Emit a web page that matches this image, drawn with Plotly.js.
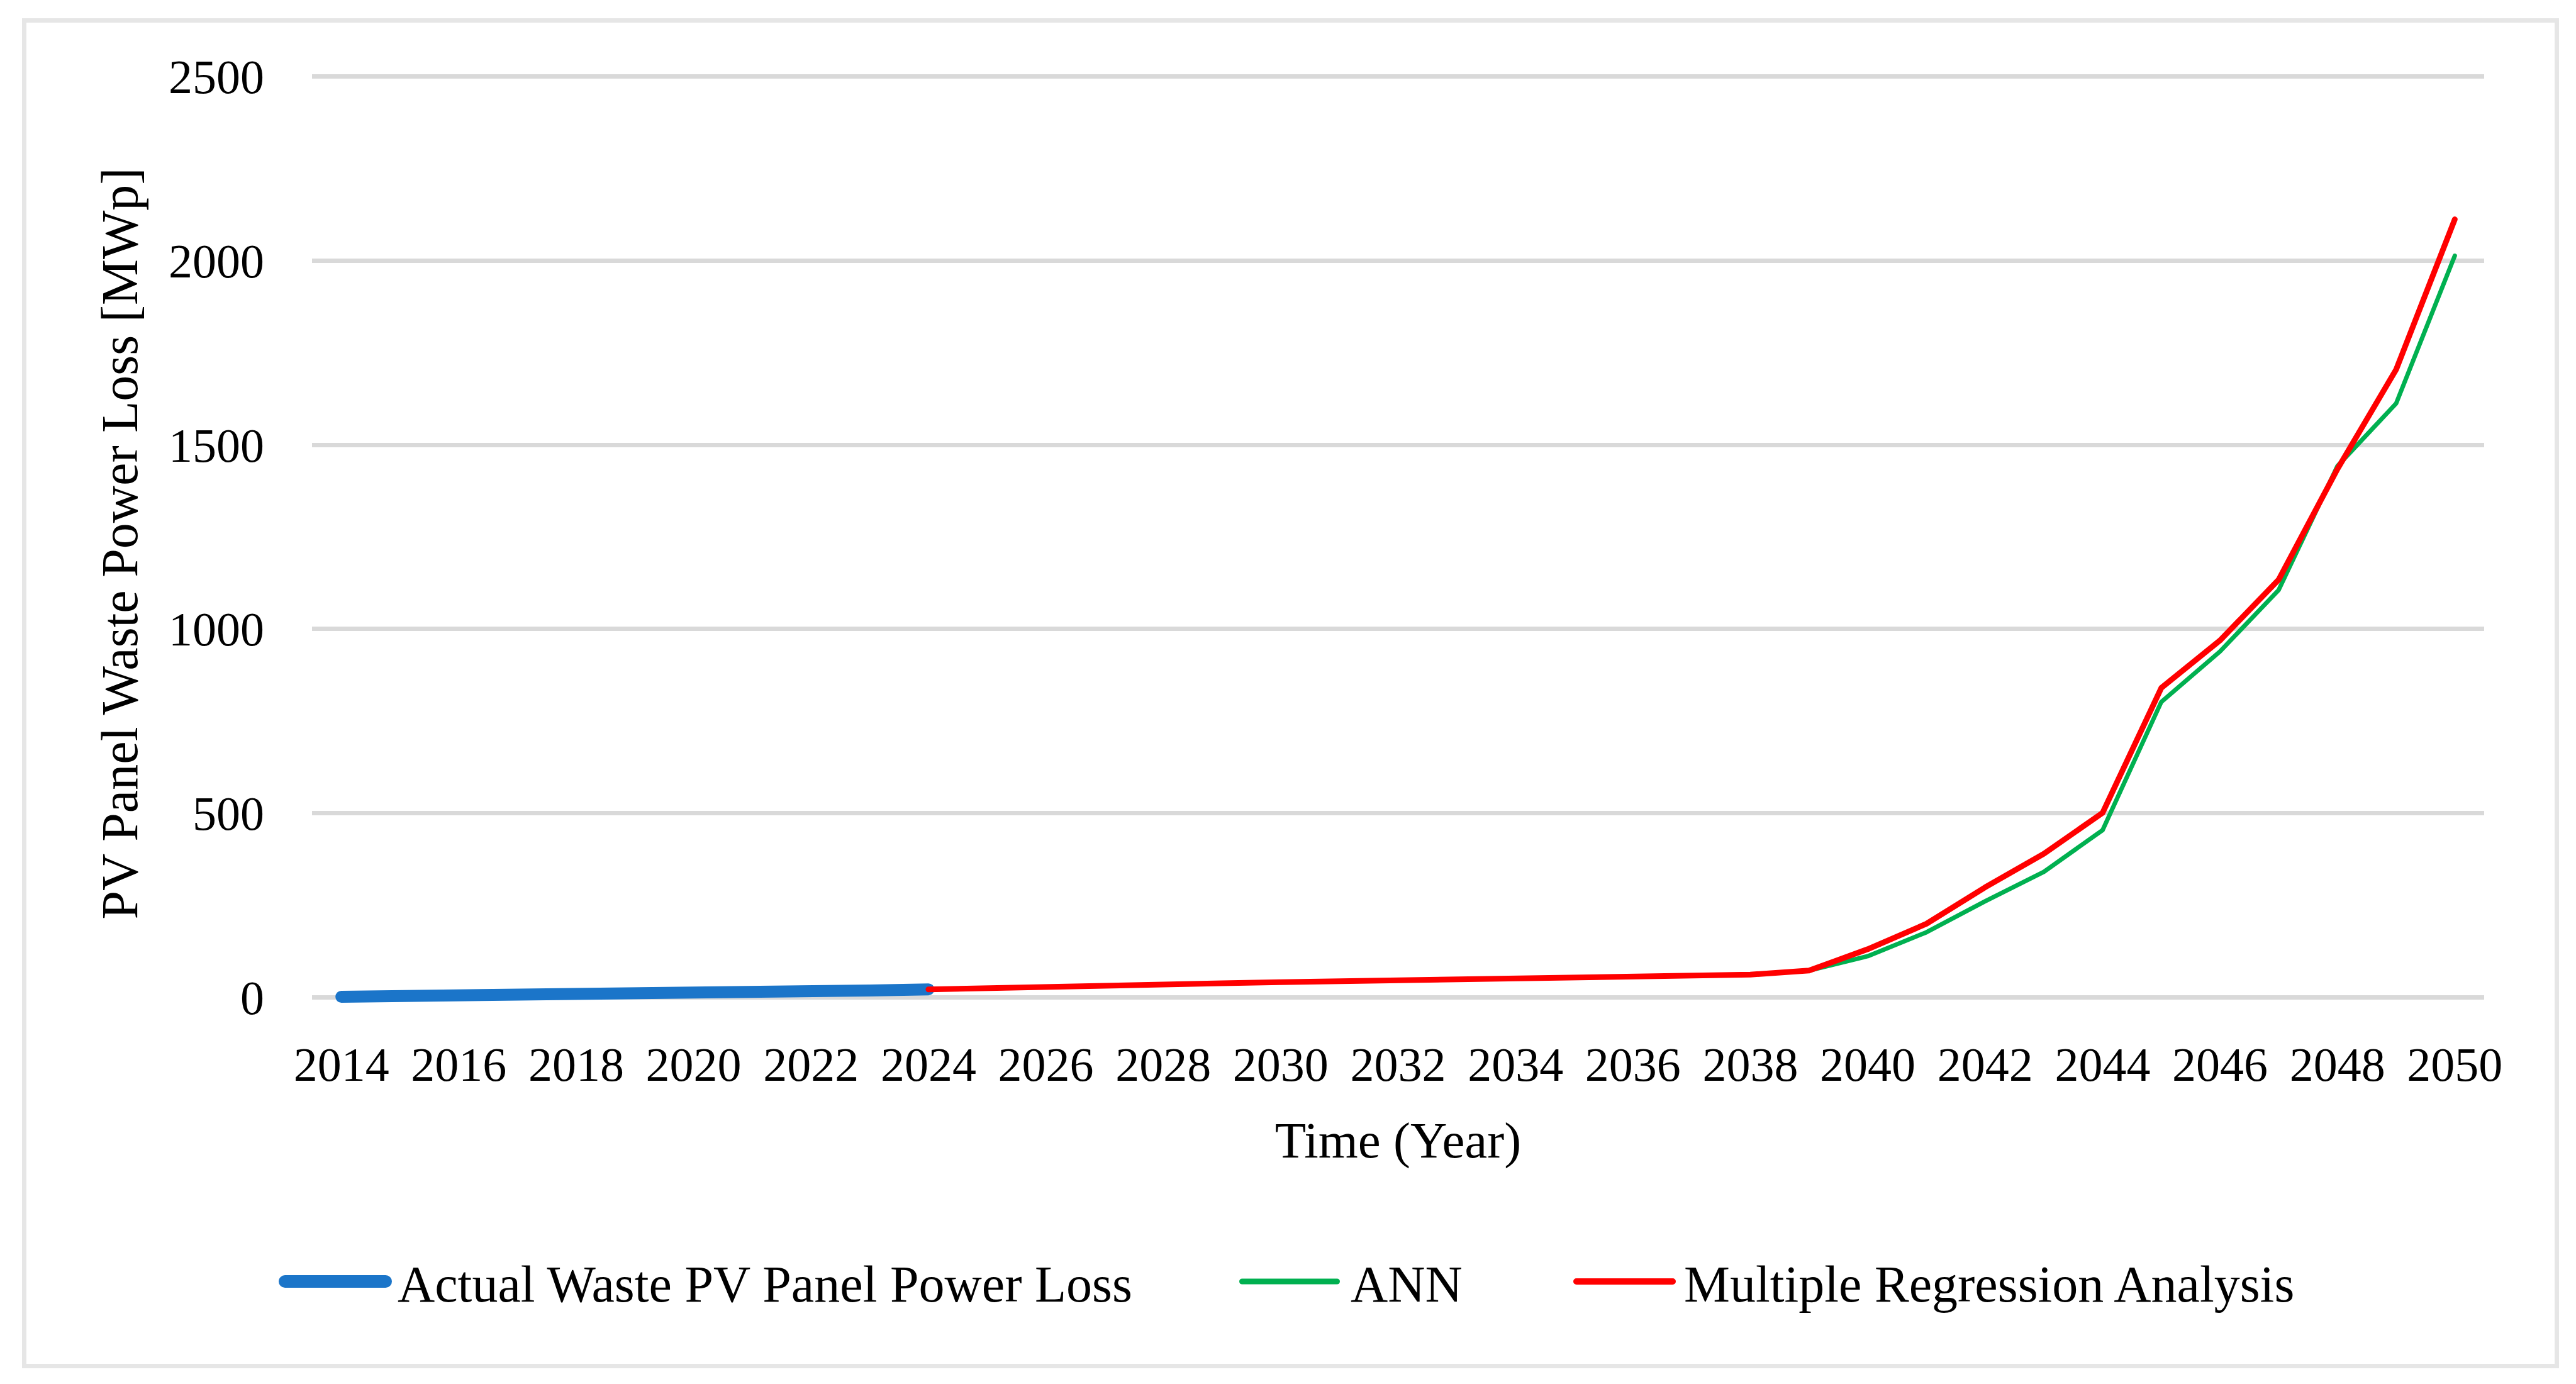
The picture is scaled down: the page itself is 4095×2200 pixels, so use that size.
<!DOCTYPE html>
<html>
<head>
<meta charset="utf-8">
<script src="https://cdn.plot.ly/plotly-3.0.1.min.js"></script>
<style>
  html, body { margin: 0; padding: 0; background: #ffffff; }
  #chart { width: 4095px; height: 2200px; }
  #frame { position: absolute; left: 35px; top: 29px; width: 4033px; height: 2146px;
           box-sizing: border-box; border: 7px solid #e6e6e6; pointer-events: none; }
</style>
</head>
<body>
<div id="chart"></div>
<div id="frame"></div>
<script>
// ---- data ----
const actualYears = [2014, 2015, 2016, 2017, 2018, 2019, 2020, 2021, 2022, 2023, 2024];
const actualLoss  = [2, 3, 4, 5, 6, 7, 8, 10, 12, 19, 22];

const forecastYears = [2024, 2025, 2026, 2027, 2028, 2029, 2030, 2031, 2032, 2033, 2034, 2035, 2036,
                       2037, 2038, 2039, 2040, 2041, 2042, 2043, 2044, 2045, 2046, 2047, 2048, 2049, 2050];
const annLoss = [22, 26, 29.5, 32.5, 35.5, 38.5, 41.5, 44.5, 47, 49.5, 52, 54.5, 57,
                 59.5, 62, 73, 112, 177, 261, 341, 454, 802, 939, 1106, 1442, 1612, 2013];
const mraLoss = [22, 26, 29.5, 32.5, 35.5, 38.5, 41.5, 44.5, 47, 49.5, 52, 54.5, 57,
                 59.5, 62, 73, 131, 200, 299, 390, 501, 840, 969, 1134, 1434, 1704, 2112];

const seriesNames = ['Actual Waste PV Panel Power Loss', 'ANN', 'Multiple Regression Analysis'];
const yTickVals = [0, 500, 1000, 1500, 2000, 2500];
const xTickVals = [2014, 2016, 2018, 2020, 2022, 2024, 2026, 2028, 2030, 2032, 2034, 2036, 2038,
                   2040, 2042, 2044, 2046, 2048, 2050];

const FONT = '"Liberation Serif", "Times New Roman", Times, serif';

const traces = [
  { x: actualYears, y: actualLoss, name: seriesNames[0], type: 'scatter', mode: 'lines',
    line: { color: '#1B75C9', width: 19 }, cliponaxis: false, legend: 'legend' },
  { x: forecastYears, y: annLoss, name: seriesNames[1], type: 'scatter', mode: 'lines',
    line: { color: '#00B050', width: 7 }, cliponaxis: false, legend: 'legend2' },
  { x: forecastYears, y: mraLoss, name: seriesNames[2], type: 'scatter', mode: 'lines',
    line: { color: '#FF0000', width: 9 }, cliponaxis: false, legend: 'legend3' }
];

const legendCommon = {
  orientation: 'h', xref: 'container', yref: 'container', xanchor: 'left', yanchor: 'middle',
  y: 0.074, font: { family: FONT, size: 82, color: '#000000' }, itemwidth: 190,
  bgcolor: 'rgba(0,0,0,0)', borderwidth: 0, itemclick: false, itemdoubleclick: false
};

const layout = {
  width: 4095, height: 2200,
  paper_bgcolor: '#ffffff', plot_bgcolor: '#ffffff',
  // y range reaches a little below 0 so the thick line near 0 is not clipped
  margin: { l: 496, r: 146, t: 118.7, b: 590.6, pad: 0 },
  font: { family: FONT, size: 76, color: '#000000' },
  showlegend: true,
  legend:  Object.assign({}, legendCommon, { x: 432 / 4095 }),
  legend2: Object.assign({}, legendCommon, { x: 1947 / 4095 }),
  legend3: Object.assign({}, legendCommon, { x: 2477 / 4095 }),
  xaxis: {
    type: 'linear', range: [2013.5, 2050.5], tickmode: 'array', tickvals: xTickVals,
    ticktext: xTickVals.map(String), showgrid: false, zeroline: false, showline: false,
    ticks: '', ticklabelstandoff: 32, tickfont: { family: FONT, size: 76, color: '#000000' },
    title: { text: 'Time (Year)', font: { family: FONT, size: 81, color: '#000000' }, standoff: 50 }
  },
  yaxis: {
    range: [-40, 2504], tickmode: 'array', tickvals: yTickVals, ticktext: yTickVals.map(String),
    showgrid: true, gridcolor: '#d9d9d9', gridwidth: 7, zeroline: false, showline: false,
    ticks: '', ticklabelstandoff: 75, tickfont: { family: FONT, size: 76, color: '#000000' },
    title: { text: 'PV Panel Waste Power Loss [MWp]', font: { family: FONT, size: 82, color: '#000000' }, standoff: 22 }
  }
};

const config = { staticPlot: true, displayModeBar: false, responsive: false };

// legend swatch look (length, gap to text, thickness), per series
const swatchLen = [180, 160, 163];
const swatchGap = [9, 17, 13];
const swatchW = [20, 9, 10];

function styleLegendAndLines(gd) {
  gd.querySelectorAll('.scatterlayer path.js-line').forEach(function (p) {
    p.style.strokeLinecap = 'round';
    p.style.strokeLinejoin = 'round';
  });
  const items = document.querySelectorAll('#chart .infolayer g.traces, #chart g.traces');
  items.forEach(function (g) {
    const text = g.querySelector('text.legendtext') || g.querySelector('text');
    const paths = g.querySelectorAll('g.legendlines path, path.js-line');
    if (!text || !paths.length) return;
    const name = (text.textContent || '').replace(/\s+/g, ' ').trim();
    const i = seriesNames.indexOf(name);
    if (i < 0) return;
    const w = swatchW[i];
    const tb = text.getBBox();
    const tc = text.getCTM();
    const textLeft = tc.e + tb.x * tc.a;
    const visEnd = textLeft - swatchGap[i];
    const visStart = visEnd - swatchLen[i];
    paths.forEach(function (path) {
      const pc = path.getCTM();
      const x0 = (visStart + w / 2 - pc.e) / pc.a;
      const len = (swatchLen[i] - w) / pc.a;
      path.setAttribute('d', 'M' + x0 + ',0h' + len);
      path.style.strokeWidth = w + 'px';
      path.style.strokeLinecap = 'round';
    });
  });
}

Plotly.newPlot('chart', traces, layout, config).then(function (gd) {
  styleLegendAndLines(gd);
  gd.on('plotly_afterplot', function () { styleLegendAndLines(gd); });
  setTimeout(function () { styleLegendAndLines(gd); }, 50);
  setTimeout(function () { styleLegendAndLines(gd); }, 400);
});
</script>
</body>
</html>
